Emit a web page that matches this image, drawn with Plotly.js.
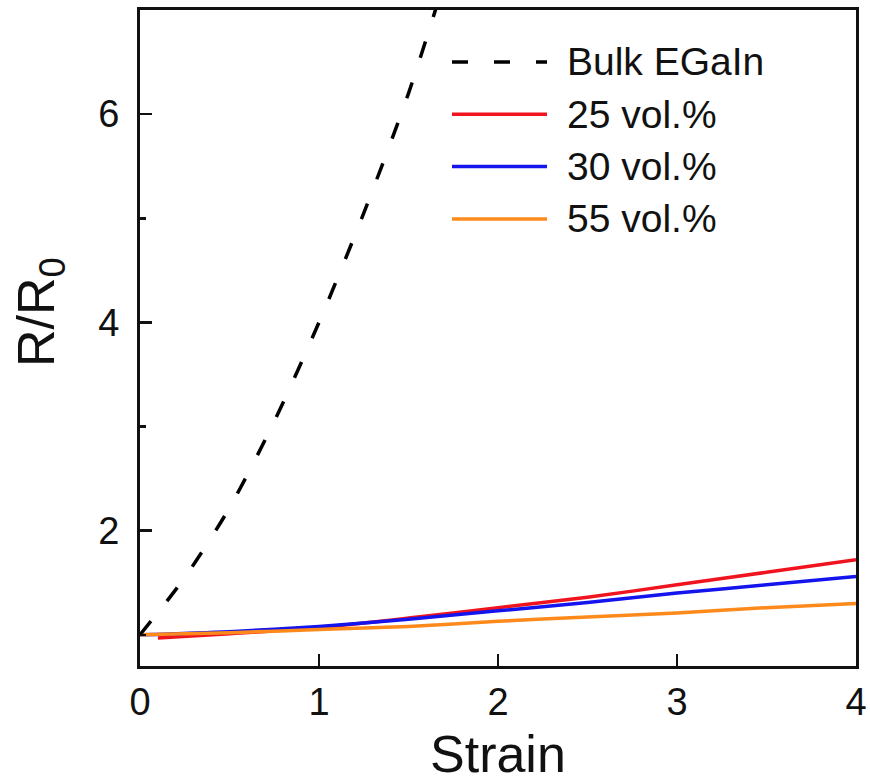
<!DOCTYPE html>
<html>
<head>
<meta charset="utf-8">
<script src="https://cdn.plot.ly/plotly-3.0.1.min.js"></script>
<style>
  html, body { margin: 0; padding: 0; background: #ffffff; }
  #chart { width: 870px; height: 782px; }
</style>
</head>
<body>
<div id="chart"></div>
<script>
// Resistance change R/R0 versus strain for bulk EGaIn and composites
const seriesNames = ["Bulk EGaIn", "25 vol.%", "30 vol.%", "55 vol.%"];
const seriesColors = ["#000000", "#f0141e", "#1414ee", "#ff8a1c"];

const strainBulk = [0, 0.25, 0.5, 0.75, 1.0, 1.25, 1.5, 1.75];
const rBulk      = [1.0, 1.55, 2.22, 3.05, 4.0, 5.05, 6.2, 7.55];

const strain25 = [0.1, 0.5, 1.0, 1.5, 2.0, 2.5, 3.0, 3.5, 4.0];
const r25      = [0.97, 1.01, 1.07, 1.16, 1.26, 1.36, 1.48, 1.60, 1.72];

const strain30 = [0, 0.5, 1.0, 1.5, 2.0, 2.5, 3.0, 3.5, 4.0];
const r30      = [1.0, 1.03, 1.08, 1.15, 1.23, 1.31, 1.40, 1.48, 1.56];

const strain55 = [0, 0.5, 1.0, 1.5, 2.0, 2.5, 3.0, 3.5, 4.0];
const r55      = [1.0, 1.02, 1.05, 1.08, 1.13, 1.17, 1.21, 1.26, 1.30];

const xTicks = [0, 1, 2, 3, 4];
const yTicks = [2, 4, 6];

const FONT = "Liberation Sans, Arial, Helvetica, sans-serif";
const LINE_W = 3.5;
const BULK_DASH = "17px,26px";

function curve(x, y, idx, dash) {
  return {
    x: x, y: y, type: "scatter", mode: "lines", name: seriesNames[idx],
    line: { color: seriesColors[idx], width: LINE_W, shape: "spline", smoothing: 0.8, dash: dash || "solid" },
    showlegend: false, hoverinfo: "skip"
  };
}

// draw order: composites first, bulk dashed line on top
const traces = [
  curve(strain25, r25, 1),
  curve(strain30, r30, 2),
  curve(strain55, r55, 3),
  curve(strainBulk, rBulk, 0, BULK_DASH)
];

// plot area geometry (pixels) used to place the hand-drawn legend
const W = 870, H = 782;
const M = { l: 140, r: 14, t: 10, b: 116 };
const plotW = W - M.l - M.r, plotH = H - M.t - M.b;
const px2x = p => (p - M.l) / plotW;
const px2y = p => (H - M.b - p) / plotH;

const legendLeft = 452, legendRight = 547, legendText = 565;
const legendTop = 62, legendStep = 52.3;

const shapes = [];
const annotations = [];
seriesNames.forEach((name, i) => {
  const yy = px2y(legendTop + i * legendStep);
  shapes.push({
    type: "line", xref: "paper", yref: "paper",
    x0: px2x(legendLeft), x1: px2x(legendRight), y0: yy, y1: yy,
    line: { color: seriesColors[i], width: LINE_W, dash: i === 0 ? "16px,26px" : "solid" }
  });
  annotations.push({
    xref: "paper", yref: "paper", x: px2x(legendText), y: yy,
    xanchor: "left", yanchor: "middle", showarrow: false,
    text: name, font: { family: FONT, size: 39, color: "#111111" }
  });
});

// axis titles
annotations.push({
  xref: "paper", yref: "paper", x: px2x(498), y: px2y(754),
  xanchor: "center", yanchor: "middle", showarrow: false,
  text: "Strain", font: { family: FONT, size: 52, color: "#111111" }
});
annotations.push({
  xref: "paper", yref: "paper", x: px2x(40), y: px2y(312),
  xanchor: "center", yanchor: "middle", showarrow: false, textangle: -90,
  text: "R/R<sub>0</sub>", font: { family: FONT, size: 52, color: "#111111" }
});

const axisCommon = {
  showgrid: false, zeroline: false,
  showline: true, linecolor: "#111111", linewidth: 3, mirror: true,
  ticks: "inside", ticklen: 12, tickwidth: 2.5, tickcolor: "#111111",
  tickfont: { family: FONT, size: 38, color: "#111111" }
};

const layout = {
  width: W, height: H,
  margin: M,
  paper_bgcolor: "#ffffff", plot_bgcolor: "#ffffff",
  showlegend: false,
  xaxis: Object.assign({}, axisCommon, {
    range: [0, 4], tickvals: xTicks, ticktext: xTicks.map(String),
    ticklabelstandoff: 0
  }),
  yaxis: Object.assign({}, axisCommon, {
    range: [0.7, 7], tickvals: yTicks, ticktext: yTicks.map(String),
    ticklabelstandoff: 10,
    minor: { tickvals: [1, 3, 5], ticks: "inside", ticklen: 6, tickwidth: 2.5, tickcolor: "#111111" }
  }),
  shapes: shapes,
  annotations: annotations
};

Plotly.newPlot("chart", traces, layout, { staticPlot: true, displayModeBar: false });
</script>
</body>
</html>
